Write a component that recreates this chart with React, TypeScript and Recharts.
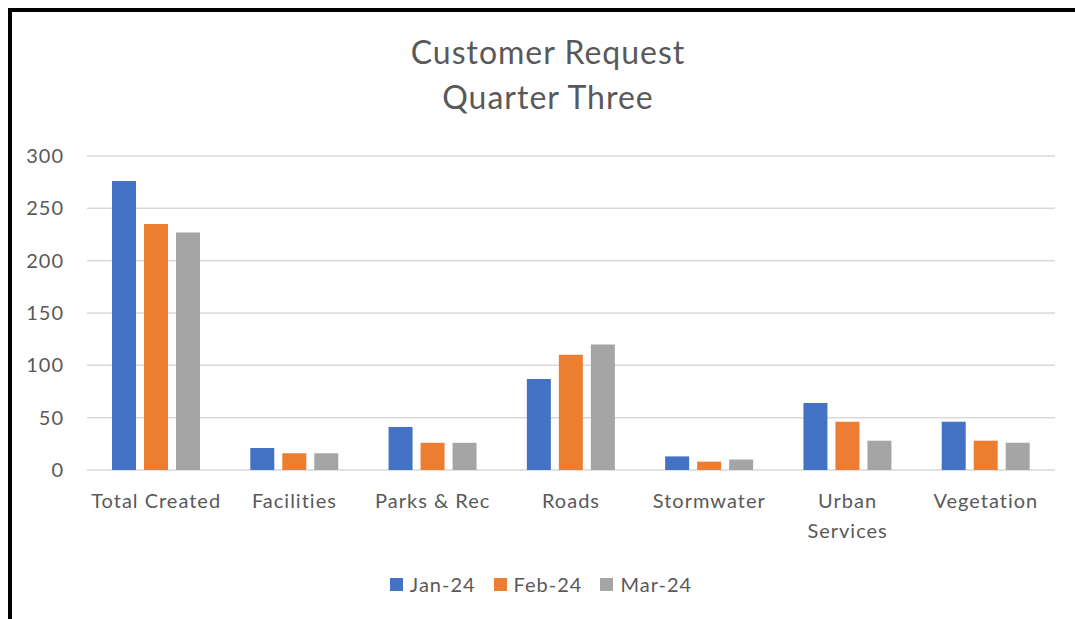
import React from 'react';
import { BarChart, Bar, XAxis, YAxis, CartesianGrid, Legend } from 'recharts';

const categories = ['Total Created', 'Facilities', 'Parks & Rec', 'Roads', 'Stormwater', 'Urban Services', 'Vegetation'];
const jan24 = [276, 21, 41, 87, 13, 64, 46];
const feb24 = [235, 16, 26, 110, 8, 46, 28];
const mar24 = [227, 16, 26, 120, 10, 28, 26];
const yTicks = [0, 50, 100, 150, 200, 250, 300];

const series = [
  { key: 'jan', name: 'Jan-24', color: '#4472C4' },
  { key: 'feb', name: 'Feb-24', color: '#ED7D31' },
  { key: 'mar', name: 'Mar-24', color: '#A5A5A5' },
];

const data = categories.map((name, i) => ({ name, jan: jan24[i], feb: feb24[i], mar: mar24[i] }));

const FONT = 'Lato, "Open Sans", sans-serif';
const GREY = '#595959';

// category names longer than the band wrap onto a second line, like Excel does
const CategoryTick = (props: any) => {
  const { x, y, payload } = props;
  const label: string = String(payload.value);
  const lines = label.length > 13 ? label.split(' ') : [label];
  return (
    <text x={x} y={y} textAnchor="middle" fill={GREY} fontSize={20} fontFamily={FONT} letterSpacing={1}>
      {lines.map((l, i) => (
        <tspan key={i} x={x} dy={i === 0 ? 13 : 30}>{l}</tspan>
      ))}
    </text>
  );
};

const LegendContent = () => (
  <div style={{ display: 'flex', justifyContent: 'center', height: 24, alignItems: 'center', paddingLeft: 27,
    fontFamily: FONT, fontSize: 20, letterSpacing: 1, color: GREY }}>
    {series.map((s) => (
      <div key={s.key} style={{ display: 'flex', alignItems: 'center', margin: '0 9px' }}>
        <span style={{ width: 13, height: 13, background: s.color, display: 'inline-block', marginRight: 7 }} />
        <span>{s.name}</span>
      </div>
    ))}
  </div>
);

export default function App() {
  return (
    <div style={{ position: 'fixed', left: 0, top: 0, width: 1075, height: 619, background: '#fff', overflow: 'hidden' }}>
      <div style={{ position: 'absolute', left: 8, top: 8, width: 1200, height: 800, borderLeft: '4px solid #000', borderTop: '4px solid #000' }} />
      <div style={{ position: 'absolute', left: 0, top: 29, width: 1096, textAlign: 'center', fontFamily: FONT, fontSize: 32,
        letterSpacing: 1, lineHeight: '45px', color: GREY }}>
        <div>Customer Request</div>
        <div>Quarter Three</div>
      </div>
      <div style={{ position: 'absolute', left: 0, top: 0 }}>
        <BarChart width={1075} height={619} data={data} margin={{ top: 156, right: 20, bottom: 23, left: 0 }}
          barCategoryGap={25} barGap={8}>
          <CartesianGrid vertical={false} stroke="#d9d9d9" strokeWidth={1.5} />
          <XAxis dataKey="name" axisLine={false} tickLine={false} tickSize={0} tickMargin={25} height={102}
            interval={0} tick={<CategoryTick />} />
          <YAxis domain={[0, 300]} ticks={yTicks} axisLine={false} tickLine={false} tickSize={0} tickMargin={23} width={87}
            tick={{ fill: GREY, fontSize: 20, fontFamily: FONT, letterSpacing: 1 }} />
          <Legend verticalAlign="bottom" content={<LegendContent />} />
          {series.map((s) => (
            <Bar key={s.key} dataKey={s.key} name={s.name} fill={s.color} isAnimationActive={false} />
          ))}
        </BarChart>
      </div>
    </div>
  );
}
